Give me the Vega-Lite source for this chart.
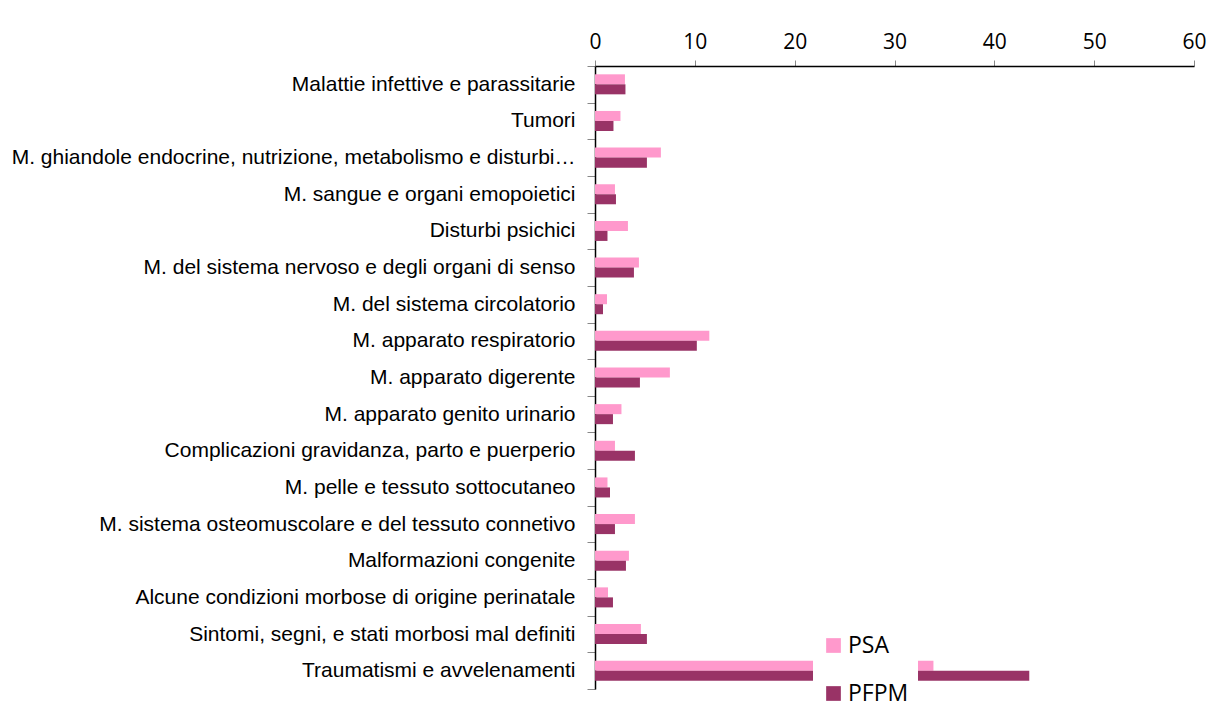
{
  "$schema": "https://vega.github.io/schema/vega-lite/v6.json",
  "width": 599,
  "height": 623,
  "autosize": "none",
  "padding": {"left": 595, "top": 66, "right": 29, "bottom": 20},
  "background": "white",
  "data": {
    "values": [
      {"cat": "Malattie infettive e parassitarie", "serie": "PSA", "v": 3.0},
      {"cat": "Malattie infettive e parassitarie", "serie": "PFPM", "v": 3.05},
      {"cat": "Tumori", "serie": "PSA", "v": 2.55},
      {"cat": "Tumori", "serie": "PFPM", "v": 1.85},
      {"cat": "M. ghiandole endocrine, nutrizione, metabolismo e disturbi…", "serie": "PSA", "v": 6.6},
      {"cat": "M. ghiandole endocrine, nutrizione, metabolismo e disturbi…", "serie": "PFPM", "v": 5.2},
      {"cat": "M. sangue e organi emopoietici", "serie": "PSA", "v": 2.0},
      {"cat": "M. sangue e organi emopoietici", "serie": "PFPM", "v": 2.1},
      {"cat": "Disturbi psichici", "serie": "PSA", "v": 3.3},
      {"cat": "Disturbi psichici", "serie": "PFPM", "v": 1.25},
      {"cat": "M. del sistema nervoso e degli organi di senso", "serie": "PSA", "v": 4.4},
      {"cat": "M. del sistema nervoso e degli organi di senso", "serie": "PFPM", "v": 3.9},
      {"cat": "M. del sistema circolatorio", "serie": "PSA", "v": 1.2},
      {"cat": "M. del sistema circolatorio", "serie": "PFPM", "v": 0.8},
      {"cat": "M. apparato respiratorio", "serie": "PSA", "v": 11.45},
      {"cat": "M. apparato respiratorio", "serie": "PFPM", "v": 10.2},
      {"cat": "M. apparato digerente", "serie": "PSA", "v": 7.5},
      {"cat": "M. apparato digerente", "serie": "PFPM", "v": 4.5},
      {"cat": "M. apparato genito urinario", "serie": "PSA", "v": 2.65},
      {"cat": "M. apparato genito urinario", "serie": "PFPM", "v": 1.8},
      {"cat": "Complicazioni gravidanza, parto  e puerperio", "serie": "PSA", "v": 2.0},
      {"cat": "Complicazioni gravidanza, parto  e puerperio", "serie": "PFPM", "v": 4.0},
      {"cat": "M. pelle e tessuto sottocutaneo", "serie": "PSA", "v": 1.25},
      {"cat": "M. pelle e tessuto sottocutaneo", "serie": "PFPM", "v": 1.5},
      {"cat": "M. sistema osteomuscolare e del tessuto connetivo", "serie": "PSA", "v": 4.0},
      {"cat": "M. sistema osteomuscolare e del tessuto connetivo", "serie": "PFPM", "v": 2.0},
      {"cat": "Malformazioni congenite", "serie": "PSA", "v": 3.4},
      {"cat": "Malformazioni congenite", "serie": "PFPM", "v": 3.1},
      {"cat": "Alcune condizioni morbose di origine perinatale", "serie": "PSA", "v": 1.3},
      {"cat": "Alcune condizioni morbose di origine perinatale", "serie": "PFPM", "v": 1.8},
      {"cat": "Sintomi, segni, e stati morbosi mal definiti", "serie": "PSA", "v": 4.6},
      {"cat": "Sintomi, segni, e stati morbosi mal definiti", "serie": "PFPM", "v": 5.2},
      {"cat": "Traumatismi e avvelenamenti", "serie": "PSA", "v": 33.9},
      {"cat": "Traumatismi e avvelenamenti", "serie": "PFPM", "v": 43.5}
    ]
  },
  "mark": {"type": "bar"},
  "encoding": {
    "y": {
      "field": "cat",
      "type": "nominal",
      "sort": null,
      "scale": {"paddingInner": 0, "paddingOuter": 0},
      "axis": {
        "title": null,
        "labelFont": "Liberation Sans",
        "labelFontSize": 21,
        "labelColor": "black",
        "labelLimit": 700,
        "tickBand": "extent",
        "tickSize": 8,
        "tickColor": "#888888",
        "labelPadding": 12,
        "domainColor": "black",
        "domainWidth": 1.5
      }
    },
    "yOffset": {
      "field": "serie",
      "type": "nominal",
      "sort": ["PSA", "PFPM"],
      "scale": {"paddingInner": 0, "paddingOuter": 0.83}
    },
    "x": {
      "field": "v",
      "type": "quantitative",
      "scale": {"domain": [0, 60], "nice": false},
      "axis": {
        "orient": "top",
        "title": null,
        "values": [0, 10, 20, 30, 40, 50, 60],
        "grid": false,
        "labelFont": "Open Sans",
        "labelFontSize": 21,
        "labelColor": "black",
        "tickSize": 6,
        "tickColor": "#888888",
        "labelPadding": 8,
        "domainColor": "black",
        "domainWidth": 1.5,
        "labelFlush": false
      }
    },
    "color": {
      "field": "serie",
      "type": "nominal",
      "sort": ["PSA", "PFPM"],
      "scale": {"domain": ["PSA", "PFPM"], "range": ["#FF99CC", "#993366"]},
      "legend": {
        "title": null,
        "orient": "none",
        "legendX": 218,
        "legendY": 559,
        "fillColor": "white",
        "padding": 9,
        "symbolType": "square",
        "symbolSize": 216,
        "symbolStrokeWidth": 0,
        "symbolOpacity": 1,
        "labelFont": "Open Sans",
        "labelFontSize": 23,
        "labelColor": "black",
        "labelOffset": 3,
        "rowPadding": 24
      }
    }
  },
  "config": {"view": {"stroke": null}}
}
